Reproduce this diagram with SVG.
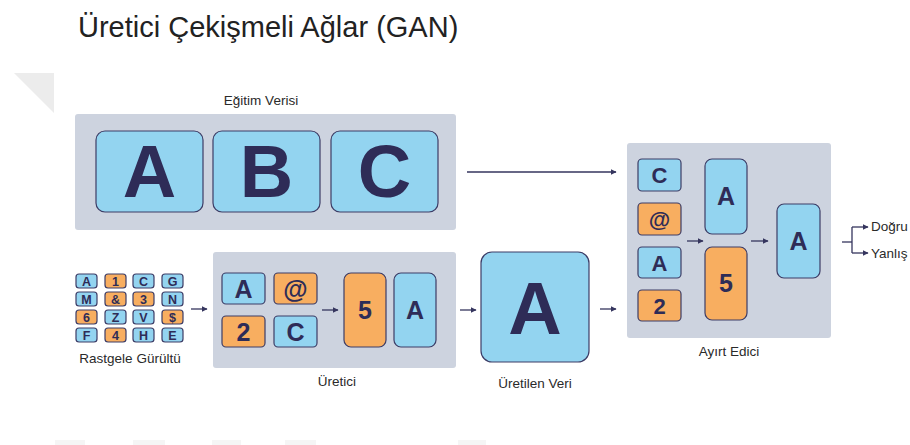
<svg xmlns="http://www.w3.org/2000/svg" width="910" height="445" viewBox="0 0 910 445">
  <defs>
    <marker id="arrow" viewBox="0 0 10 10" refX="9" refY="5" markerWidth="6" markerHeight="6" markerUnits="userSpaceOnUse" orient="auto">
      <path d="M0,0 L10,5 L0,10 z" fill="#35355e"/>
    </marker>
    <style>
      .title { font-family: "Liberation Sans", Arial, sans-serif; font-size: 29px; fill: #222; }
      .label { font-family: "Liberation Sans", Arial, sans-serif; font-size: 13.5px; fill: #2a2a2a; text-anchor: middle; }
      .side { font-family: "Liberation Sans", Arial, sans-serif; font-size: 13.5px; fill: #2a2a2a; }
      .panel { fill: #cdd3df; }
      .blue { fill: #93d4f0; stroke: #3c3c66; stroke-width: 1.2; }
      .orange { fill: #f8ae60; stroke: #3c3c66; stroke-width: 1.2; }
      .glyph { font-family: "Liberation Sans", Arial, sans-serif; font-weight: bold; fill: #2e2c57; text-anchor: middle; }
      .g72 { font-size: 74px; }
      .g24 { font-size: 25px; }
      .g22 { font-size: 22px; }
      .g12 { font-size: 12.5px; }
      .conn { stroke: #35355e; stroke-width: 1.3; fill: none; }
    </style>
  </defs>

  <rect width="910" height="445" fill="#ffffff"/>
  <!-- faint page marks -->
  <polygon points="14,73 54,73 54,113" fill="#ececec"/>
  <g fill="#f5f5f5">
    <rect x="55" y="440" width="30" height="5"/>
    <rect x="133" y="440" width="32" height="5"/>
    <rect x="212" y="440" width="29" height="5"/>
    <rect x="285" y="440" width="31" height="5"/>
    <rect x="458" y="440" width="28" height="5"/>
  </g>

  <text class="title" x="78" y="37">Üretici Çekişmeli Ağlar (GAN)</text>

  <!-- training data -->
  <g id="training-data">
    <text class="label" x="261" y="105">Eğitim Verisi</text>
    <rect class="panel" x="75" y="114" width="381" height="116" rx="3"/>
    <rect class="blue" x="96" y="131" width="107" height="81" rx="9"/>
    <rect class="blue" x="213" y="131" width="107" height="81" rx="9"/>
    <rect class="blue" x="331" y="131" width="107" height="81" rx="9"/>
    <text class="glyph g72" x="149.5" y="197">A</text>
    <text class="glyph g72" x="266.5" y="197">B</text>
    <text class="glyph g72" x="384.5" y="197">C</text>
  </g>

  <!-- random noise -->
  <g id="noise">
    <rect class="blue" x="76" y="274" width="21" height="14" rx="3"/>
    <rect class="orange" x="105" y="274" width="21" height="14" rx="3"/>
    <rect class="blue" x="133" y="274" width="21" height="14" rx="3"/>
    <rect class="blue" x="162" y="274" width="21" height="14" rx="3"/>
    <rect class="blue" x="76" y="292" width="21" height="14" rx="3"/>
    <rect class="orange" x="105" y="292" width="21" height="14" rx="3"/>
    <rect class="orange" x="133" y="292" width="21" height="14" rx="3"/>
    <rect class="blue" x="162" y="292" width="21" height="14" rx="3"/>
    <rect class="orange" x="76" y="310" width="21" height="14" rx="3"/>
    <rect class="blue" x="105" y="310" width="21" height="14" rx="3"/>
    <rect class="blue" x="133" y="310" width="21" height="14" rx="3"/>
    <rect class="orange" x="162" y="310" width="21" height="14" rx="3"/>
    <rect class="blue" x="76" y="328" width="21" height="14" rx="3"/>
    <rect class="orange" x="105" y="328" width="21" height="14" rx="3"/>
    <rect class="blue" x="133" y="328" width="21" height="14" rx="3"/>
    <rect class="blue" x="162" y="328" width="21" height="14" rx="3"/>
    <g class="glyph g12">
      <text x="86.5" y="285.5">A</text><text x="115.5" y="285.5">1</text><text x="143.5" y="285.5">C</text><text x="172.5" y="285.5">G</text>
      <text x="86.5" y="303.5">M</text><text x="115.5" y="303.5">&amp;</text><text x="143.5" y="303.5">3</text><text x="172.5" y="303.5">N</text>
      <text x="86.5" y="321.5">6</text><text x="115.5" y="321.5">Z</text><text x="143.5" y="321.5">V</text><text x="172.5" y="321.5">$</text>
      <text x="86.5" y="339.5">F</text><text x="115.5" y="339.5">4</text><text x="143.5" y="339.5">H</text><text x="172.5" y="339.5">E</text>
    </g>
    <text class="label" x="130" y="363">Rastgele Gürültü</text>
  </g>

  <!-- generator -->
  <g id="generator">
    <rect class="panel" x="213" y="252" width="243" height="116" rx="3"/>
    <rect class="blue" x="222" y="273" width="43" height="31" rx="4"/>
    <rect class="orange" x="274" y="273" width="43" height="31" rx="4"/>
    <rect class="orange" x="222" y="316" width="43" height="31" rx="4"/>
    <rect class="blue" x="274" y="316" width="43" height="31" rx="4"/>
    <text class="glyph g24" x="243.5" y="297.5">A</text>
    <text class="glyph g24" x="295.5" y="297.5">@</text>
    <text class="glyph g24" x="243.5" y="340.5">2</text>
    <text class="glyph g24" x="295.5" y="340.5">C</text>
    <rect class="orange" x="344" y="273" width="42" height="74" rx="7"/>
    <rect class="blue" x="394" y="273" width="42" height="74" rx="7"/>
    <text class="glyph g24" x="365" y="319">5</text>
    <text class="glyph g24" x="415" y="319">A</text>
    <text class="label" x="337" y="386">Üretici</text>
  </g>

  <!-- generated data -->
  <g id="generated-data">
    <rect class="blue" x="481" y="252" width="108" height="110" rx="11"/>
    <text class="glyph g72" x="535" y="334">A</text>
    <text class="label" x="535" y="388">Üretilen Veri</text>
  </g>

  <!-- discriminator -->
  <g id="discriminator">
    <rect class="panel" x="627" y="143" width="204" height="195" rx="3"/>
    <rect class="blue" x="638" y="159" width="43" height="32" rx="4"/>
    <rect class="orange" x="638" y="203" width="43" height="32" rx="4"/>
    <rect class="blue" x="638" y="247" width="43" height="31" rx="4"/>
    <rect class="orange" x="638" y="290" width="43" height="31" rx="4"/>
    <text class="glyph g22" x="659.5" y="183">C</text>
    <text class="glyph g22" x="659.5" y="227">@</text>
    <text class="glyph g22" x="659.5" y="270.5">A</text>
    <text class="glyph g22" x="659.5" y="313.5">2</text>
    <rect class="blue" x="705" y="159" width="42" height="75" rx="7"/>
    <rect class="orange" x="705" y="247" width="42" height="73" rx="7"/>
    <text class="glyph g24" x="726" y="205">A</text>
    <text class="glyph g24" x="726" y="292">5</text>
    <rect class="blue" x="777" y="204" width="43" height="74" rx="7"/>
    <text class="glyph g24" x="798.5" y="250">A</text>
    <text class="label" x="729" y="356">Ayırt Edici</text>
  </g>

  <!-- outputs -->
  <g id="outputs">
    <text class="side" x="871" y="231">Doğru</text>
    <text class="side" x="871" y="258">Yanlış</text>
  </g>

  <!-- connectors -->
  <g id="connectors">
    <line class="conn" x1="467" y1="172" x2="616" y2="172" marker-end="url(#arrow)"/>
    <line class="conn" x1="191" y1="309" x2="207" y2="309" marker-end="url(#arrow)"/>
    <line class="conn" x1="322" y1="310" x2="338" y2="310" marker-end="url(#arrow)"/>
    <line class="conn" x1="460" y1="310" x2="476" y2="310" marker-end="url(#arrow)"/>
    <line class="conn" x1="600" y1="309" x2="616" y2="309" marker-end="url(#arrow)"/>
    <line class="conn" x1="687" y1="241" x2="703" y2="241" marker-end="url(#arrow)"/>
    <line class="conn" x1="751" y1="241" x2="768" y2="241" marker-end="url(#arrow)"/>
    <path class="conn" d="M842,242 H852"/>
    <path class="conn" d="M852,227 V253"/>
    <line class="conn" x1="852" y1="227" x2="868" y2="227" marker-end="url(#arrow)"/>
    <line class="conn" x1="852" y1="253" x2="868" y2="253" marker-end="url(#arrow)"/>
  </g>
</svg>
